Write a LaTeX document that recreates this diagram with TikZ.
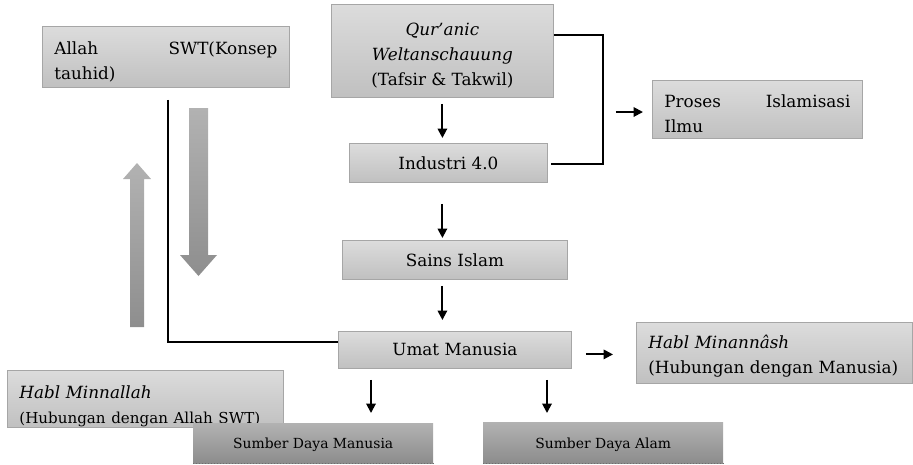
\documentclass[tikz,border=0pt]{standalone}
\usepackage{fontspec}
\setmainfont{DejaVu Serif}
\usetikzlibrary{arrows.meta,calc}
\setlength{\parindent}{0pt}
\definecolor{lt}{HTML}{DCDCDC}
\definecolor{lb}{HTML}{C0C0C0}
\definecolor{bd}{HTML}{A6A6A6}
\definecolor{dt}{HTML}{B2B2B2}
\definecolor{db}{HTML}{8C8C8C}
\definecolor{at}{HTML}{B2B2B2}
\definecolor{ab}{HTML}{8E8E8E}
\definecolor{dotc}{HTML}{6E6E6E}
\newcommand{\topstrut}[1]{\rule{0pt}{#1}}
\begin{document}
\begin{tikzpicture}[x=1pt,y=-1pt,
  lbox/.style={draw=bd, line width=0.8pt, top color=lt, bottom color=lb,
    anchor=north west, inner sep=0pt, font=\fontsize{16.8}{25}\selectfont},
  dbox/.style={draw=none, top color=dt, bottom color=db, anchor=north west,
    inner sep=0pt, font=\fontsize{13.9}{18}\selectfont},
  arr/.style={line width=1.9pt, -{Triangle[length=9.5pt,width=9.5pt]}},
  conn/.style={line width=2pt},
  bigarr/.style={top color=at, bottom color=ab, draw=none}]
\useasboundingbox (0,0) rectangle (913,464);

% gray big arrows
\shade[bigarr] (130,327) -- (130,179) -- (123,179) -- (137,163) -- (151,179)
  -- (144,179) -- (144,327) -- cycle;
\shade[bigarr] (189,108) -- (208,108) -- (208,255) -- (217,255) -- (198.5,276)
  -- (180,255) -- (189,255) -- cycle;

% boxes
\node[lbox, minimum width=247pt, minimum height=61pt, text width=223pt, align=left]
  (allah) at (42,26) {\topstrut{22pt}Allah\hfill SWT(Konsep\\tauhid)};
\node[lbox, minimum width=222pt, minimum height=93pt, align=center]
  (qur) at (331,4) {\topstrut{21pt}\textit{Qur’anic}\\\textit{Weltanschauung}\\(Tafsir \& Takwil)};
\node[lbox, minimum width=198pt, minimum height=39pt] (ind) at (349,143) {Industri 4.0};
\node[lbox, minimum width=210pt, minimum height=58pt, text width=186pt, align=left]
  (pro) at (652,80) {\topstrut{21pt}Proses\hfill Islamisasi\\Ilmu};
\node[lbox, minimum width=225pt, minimum height=39pt] (sains) at (342,240) {Sains Islam};
\node[lbox, minimum width=233pt, minimum height=37pt] (umat) at (338,331) {Umat Manusia};
\node[lbox, minimum width=276pt, minimum height=61pt, text width=252pt, align=left]
  (hmn) at (636,322) {\topstrut{19pt}\textit{Habl Minannâsh}\\(Hubungan dengan Manusia)};
\node[lbox, minimum width=276pt, minimum height=57pt, text width=252pt, align=left]
  (hml) at (7,370) {\topstrut{27pt}\textit{Habl Minnallah}\\{\fontsize{15.1}{22}\selectfont (Hubungan dengan Allah SWT)}};
\node[dbox, minimum width=240pt, minimum height=40pt] (sdm) at (193,423) {\topstrut{14pt}Sumber Daya Manusia};
\node[dbox, minimum width=240pt, minimum height=41pt] (sda) at (483,422) {\topstrut{14pt}Sumber Daya Alam};
\draw[dotted, line width=1pt, dotc] (sdm.south west) -- (sdm.south east);
\draw[dotted, line width=1pt, dotc] (sda.south west) -- (sda.south east);

% vertical chain
\draw[arr, shorten <=6pt, shorten >=5pt] (qur.south) -- (qur.south |- ind.north);
\draw[arr, shorten <=21pt, shorten >=2pt] (qur.south |- ind.south) -- (qur.south |- sains.north);
\draw[arr, shorten <=6pt, shorten >=11pt] (qur.south |- sains.south) -- (qur.south |- umat.north);

% bracket to Proses
\coordinate (b1) at ($(qur.north east)+(0,31)$);
\coordinate (b2) at ($(ind.north east)+(3,21)$);
\coordinate (b3) at ($(b1)+(49,77)$);
\draw[conn] (b1) -- ++(49,0) |- (b2);
\draw[arr, shorten <=13pt, shorten >=9pt] (b3) -- (b3 -| pro.west);

% Umat outputs
\coordinate (d1) at ($(umat.south west)+(33,0)$);
\coordinate (d2) at ($(umat.south west)+(209,0)$);
\coordinate (d3) at ($(umat.east)+(0,4.5)$);
\draw[arr, shorten <=11pt, shorten >=10pt] (d1) -- (d1 |- sdm.north);
\draw[arr, shorten <=11pt, shorten >=9pt] (d2) -- (d2 |- sda.north);
\draw[arr, shorten <=14pt, shorten >=23pt] (d3) -- (d3 -| hmn.west);

% left feedback line
\coordinate (l1) at ($(allah.south west)+(126,12)$);
\draw[conn] (l1) |- ($(umat.west)+(0,-7.5)$);
\end{tikzpicture}
\end{document}
